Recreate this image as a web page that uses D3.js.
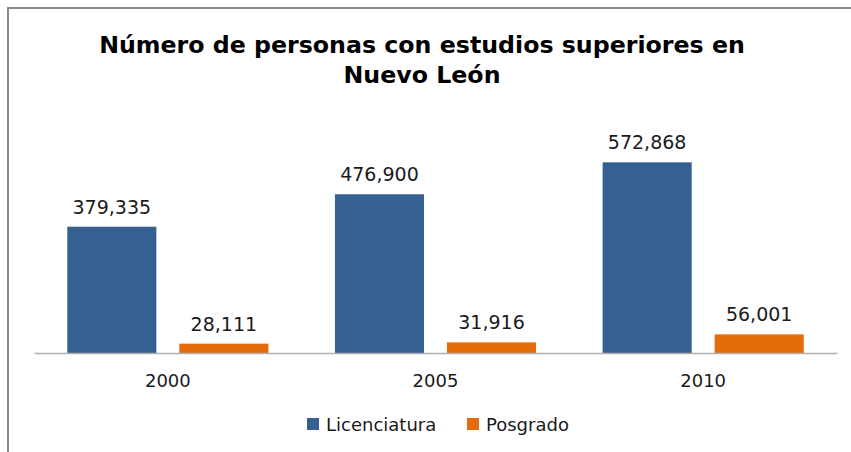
<!DOCTYPE html>
<html>
<head>
<meta charset="utf-8">
<script src="https://cdn.jsdelivr.net/npm/d3@7"></script>
<style>
  body { margin: 0; background: #fff; }
  svg { display: block; }
</style>
</head>
<body>
<div class="chart"></div>
<script>
// data
const years = ["2000", "2005", "2010"];
const series = ["Licenciatura", "Posgrado"];
const licenciatura = [379335, 476900, 572868];
const posgrado = [28111, 31916, 56001];
const titleLines = ["Número de personas con estudios superiores en", "Nuevo León"];

const colors = {Licenciatura: "#376092", Posgrado: "#e46c0a"};

let outWidth = 851, outHeight = 452;
let plot = {left: 34, right: 837, top: 120, bottom: 353};

const rows = years.map((y, i) => ({year: y, Licenciatura: licenciatura[i], Posgrado: posgrado[i]}));

const svg = d3.select(".chart").append("svg")
	.attr("width", outWidth)
	.attr("height", outHeight);

// frame (right and bottom edges fall outside the picture)
svg.append("rect")
	.attr("x", 8).attr("y", 8)
	.attr("width", 900).attr("height", 500)
	.attr("fill", "none")
	.attr("stroke", "#888")
	.attr("stroke-width", 2);

const x = d3.scaleBand()
	.domain(years)
	.range([plot.left, plot.right]);

const xSub = d3.scaleBand()
	.domain(series)
	.range([0, x.bandwidth()])
	.paddingInner(0.205)
	.paddingOuter(0.297);

const y = d3.scaleLinear()
	.domain([0, 700000])
	.range([plot.bottom, plot.top]);

const groups = svg.selectAll("g.year")
	.data(rows)
	.enter()
	.append("g")
	.attr("class", "year")
	.attr("transform", d => `translate(${x(d.year)},0)`);

groups.selectAll("rect")
	.data(d => series.map(s => ({key: s, value: d[s]})))
	.enter()
	.append("rect")
	.attr("x", d => xSub(d.key))
	.attr("y", d => y(d.value))
	.attr("width", xSub.bandwidth())
	.attr("height", d => y(0) - y(d.value))
	.attr("fill", d => colors[d.key]);

groups.selectAll("text.val")
	.data(d => series.map(s => ({key: s, value: d[s]})))
	.enter()
	.append("text")
	.attr("class", "val")
	.attr("x", d => xSub(d.key) + xSub.bandwidth() / 2)
	.attr("y", d => y(d.value) - 13)
	.attr("text-anchor", "middle")
	.style("font-family", "DejaVu Sans")
	.style("font-size", "19px")
	.attr("fill", "#1a1a1a")
	.text(d => d3.format(",")(d.value));

// baseline + year labels
const xAxis = d3.axisBottom(x).tickSize(0).tickPadding(0);
const axisG = svg.append("g")
	.attr("class", "axis x-axis")
	.attr("transform", `translate(0, ${plot.bottom})`)
	.call(xAxis);
axisG.select(".domain")
	.attr("stroke", "#b0b0b0")
	.attr("stroke-width", 1.5);
axisG.selectAll(".tick text")
	.attr("y", 34)
	.attr("dy", null)
	.style("font-family", "DejaVu Sans")
	.style("font-size", "18px")
	.attr("fill", "#1a1a1a");

// title
svg.selectAll("text.title")
	.data(titleLines)
	.enter()
	.append("text")
	.attr("class", "title")
	.attr("x", 422)
	.attr("y", (_, i) => 53 + i * 30)
	.attr("text-anchor", "middle")
	.style("font-family", "DejaVu Sans")
	.style("font-weight", "bold")
	.style("font-size", "23.7px")
	.attr("fill", "#000")
	.text(d => d);

// legend
const legendX = [307, 467];
const legend = svg.selectAll("g.legend")
	.data(series)
	.enter()
	.append("g")
	.attr("class", "legend")
	.attr("transform", (_, i) => `translate(${legendX[i]}, 418)`);
legend.append("rect")
	.attr("width", 12)
	.attr("height", 12)
	.attr("fill", d => colors[d]);
legend.append("text")
	.attr("x", 19)
	.attr("y", 13)
	.style("font-family", "DejaVu Sans")
	.style("font-size", "18px")
	.attr("fill", "#1a1a1a")
	.text(d => d);
</script>
</body>
</html>
